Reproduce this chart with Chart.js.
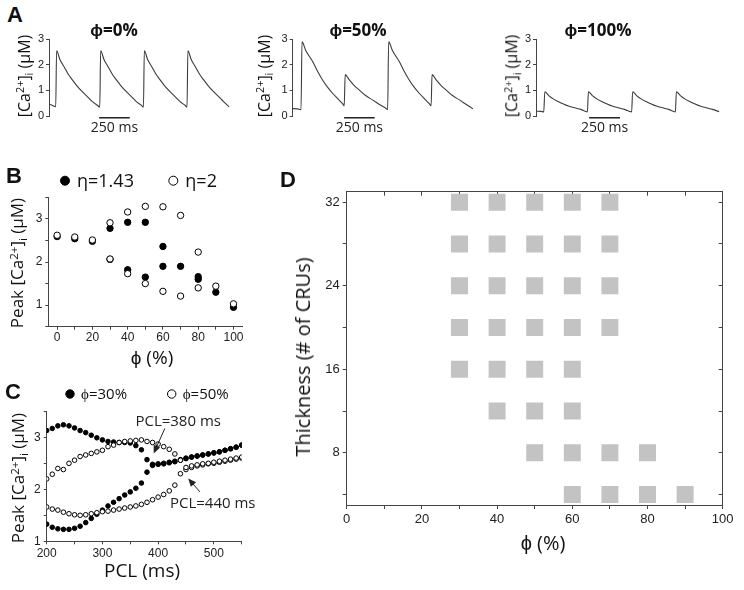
<!DOCTYPE html>
<html>
<head>
<meta charset="utf-8">
<script src="https://cdn.jsdelivr.net/npm/chart.js@4.4.1/dist/chart.umd.min.js"></script>
<style>
  body { margin: 0; background: #fff; }
  #fig { position: relative; width: 744px; height: 590px; overflow: hidden; font-family: "Open Sans", sans-serif; color: #111; }
  #fig canvas { position: absolute; }
  .txt { position: absolute; white-space: nowrap; transform: translate(-50%, -50%); line-height: 1; }
  .rot { transform: translate(-50%, -50%) rotate(-90deg); }
  .letter { font: bold 22px "Liberation Sans", Arial, sans-serif; }
  .head { font-weight: bold; font-size: 17px; }
  .up { font-size: 0.68em; vertical-align: 0.5em; }
  .dn { font-size: 0.68em; vertical-align: -0.3em; }
</style>
</head>
<body>
<div id="fig">
  <canvas id="a0"></canvas>
  <canvas id="a50"></canvas>
  <canvas id="a100"></canvas>
  <canvas id="panelB"></canvas>
  <canvas id="panelC"></canvas>
  <canvas id="panelD"></canvas>

  <div class="txt letter" style="left:15px;top:15px">A</div>
  <div class="txt head" style="left:114px;top:29px">ϕ=0%</div>
  <div class="txt head" style="left:358px;top:29px">ϕ=50%</div>
  <div class="txt head" style="left:598px;top:29px">ϕ=100%</div>
  <div class="txt rot" style="left:25px;top:76px;font-size:16px">[Ca<span class="up">2+</span>]<span class="dn">i</span> (μM)</div>
  <div class="txt rot" style="left:265px;top:76px;font-size:16px">[Ca<span class="up">2+</span>]<span class="dn">i</span> (μM)</div>
  <div class="txt rot" style="left:513px;top:76px;font-size:16px">[Ca<span class="up">2+</span>]<span class="dn">i</span> (μM)</div>

  <div class="txt letter" style="left:14px;top:176px">B</div>
  <div class="txt rot" style="left:18px;top:263px;font-size:17px">Peak [Ca<span class="up">2+</span>]<span class="dn">i</span> (μM)</div>
  <div class="txt" style="left:152px;top:357px;font-size:19px">ϕ (%)</div>

  <div class="txt letter" style="left:13px;top:392px">C</div>
  <div class="txt rot" style="left:19px;top:478px;font-size:17px">Peak [Ca<span class="up">2+</span>]<span class="dn">i</span> (μM)</div>
  <div class="txt" style="left:142px;top:570px;font-size:19px">PCL (ms)</div>

  <div class="txt letter" style="left:288px;top:180px">D</div>
  <div class="txt rot" style="left:303px;top:357px;font-size:20px">Thickness (# of CRUs)</div>
  <div class="txt" style="left:543px;top:543px;font-size:20px">ϕ (%)</div>
</div>
<script>
// ---- A: Ca transients, [time (ms), Ca (uM)] ----
const trace0 = [
  [0, 0.47], [30, 0.41], [55, 0.36],
  [62, 2.55], [90, 2.2], [123, 1.93], [155, 1.65], [191, 1.41], [230, 1.17], [272, 0.95], [315, 0.75], [354, 0.56], [395, 0.42], [415, 0.35],
  [422, 2.55], [450, 2.2], [483, 1.93], [515, 1.65], [551, 1.41], [590, 1.17], [632, 0.95], [675, 0.75], [714, 0.56], [755, 0.42], [772, 0.35],
  [779, 2.55], [807, 2.2], [840, 1.93], [872, 1.65], [908, 1.41], [947, 1.17], [989, 0.95], [1032, 0.75], [1071, 0.56], [1112, 0.42], [1128, 0.35],
  [1135, 2.55], [1163, 2.2], [1196, 1.93], [1228, 1.65], [1264, 1.41], [1303, 1.17], [1345, 0.95], [1388, 0.75], [1427, 0.56], [1473, 0.36]
];
const trace50 = [
  [0, 0.29], [40, 0.28], [68, 0.25],
  [76, 2.9], [108, 2.55], [163, 2.13], [203, 1.75], [244, 1.41], [283, 1.14], [326, 0.89], [368, 0.68], [408, 0.48], [421, 0.4],
  [429, 1.62], [461, 1.42], [501, 1.2], [543, 1.02], [596, 0.8], [652, 0.63], [706, 0.46], [761, 0.3], [776, 0.25],
  [784, 2.9], [816, 2.55], [871, 2.13], [911, 1.75], [952, 1.41], [991, 1.14], [1034, 0.89], [1076, 0.68], [1116, 0.48], [1131, 0.4],
  [1139, 1.62], [1171, 1.42], [1211, 1.2], [1253, 1.02], [1306, 0.8], [1362, 0.63], [1416, 0.46], [1473, 0.28]
];
const trace100 = [
  [0, 0.19], [40, 0.18], [63, 0.16],
  [71, 0.95], [103, 0.8], [143, 0.66], [183, 0.56], [223, 0.47], [263, 0.39], [313, 0.32], [363, 0.26], [416, 0.16],
  [424, 0.95], [456, 0.8], [496, 0.66], [536, 0.56], [576, 0.47], [616, 0.39], [666, 0.32], [716, 0.26], [774, 0.16],
  [782, 0.95], [814, 0.8], [854, 0.66], [894, 0.56], [934, 0.47], [974, 0.39], [1024, 0.32], [1074, 0.26], [1128, 0.16],
  [1136, 0.95], [1168, 0.8], [1208, 0.66], [1248, 0.56], [1288, 0.47], [1328, 0.39], [1378, 0.32], [1428, 0.26], [1483, 0.17]
];
const scaleBarStart = [410, 420, 430];
const scaleBarLength = 250;
const traceTicks = [0, 1, 2, 3];

// ---- B: peak Ca vs phi ----
const bPhi = [0, 10, 20, 30, 40, 50, 60, 70, 80, 90, 100];
const bEta143Upper = [2.59, 2.54, 2.48, 2.78, 2.92, 2.92, 2.36, 1.90, 1.66, 1.30, 0.95];
const bEta143Lower = [null, null, null, 2.06, 1.82, 1.65, 1.90, null, 1.60, null, null];
const bEta2Upper = [2.62, 2.58, 2.51, 2.91, 3.16, 3.29, 3.28, 3.08, 2.23, 1.44, 1.03];
const bEta2Lower = [null, null, null, 2.07, 1.73, 1.50, 1.32, 1.21, 1.40, null, null];

// ---- C: peak Ca vs PCL ----
const cPcl = [200, 210, 220, 230, 240, 250, 260, 270, 280, 290, 300, 310, 320, 330, 340, 350, 360, 370,
              380, 390, 400, 410, 420, 430, 440, 450, 460, 470, 480, 490, 500, 510, 520, 530, 540, 550];
const c30Upper = [3.13, 3.17, 3.22, 3.24, 3.22, 3.18, 3.13, 3.09, 3.04, 2.99, 2.95, 2.92, 2.91, 2.90, 2.90, 2.89, 2.84, 2.76,
                  2.57, 2.48, 2.49, 2.50, 2.52, 2.54, 2.57, 2.60, 2.62, 2.64, 2.66, 2.68, 2.70, 2.72, 2.75, 2.78, 2.81, 2.85];
const c30Lower = [1.33, 1.27, 1.24, 1.23, 1.23, 1.25, 1.29, 1.36, 1.44, 1.52, 1.60, 1.68, 1.75, 1.82, 1.89, 1.95, 2.02, 2.12,
                  2.33, 2.46, 2.48, 2.49, 2.51, 2.53, 2.56, 2.59, 2.62, 2.64, 2.66, 2.68, 2.70, 2.72, 2.75, 2.78, 2.81, 2.85];
const c50Upper = [2.20, 2.29, 2.40, 2.38, 2.50, 2.56, 2.63, 2.66, 2.69, 2.72, 2.75, 2.82, 2.85, 2.90, 2.92, 2.93, 2.94, 2.95,
                  2.92, 2.90, 2.87, 2.82, 2.77, 2.68, 2.56, 2.42, 2.45, 2.47, 2.49, 2.50, 2.52, 2.54, 2.56, 2.58, 2.60, 2.62];
const c50Lower = [1.66, 1.62, 1.60, 1.56, 1.53, 1.51, 1.50, 1.51, 1.53, 1.55, 1.57, 1.58, 1.60, 1.62, 1.64, 1.66, 1.68, 1.71,
                  1.75, 1.80, 1.85, 1.90, 1.97, 2.08, 2.30, 2.38, 2.42, 2.45, 2.47, 2.49, 2.50, 2.52, 2.54, 2.56, 2.58, 2.60];
const pclNotes = [
  { text: 'PCL=380 ms', at: [436, 3.30], from: [412, 3.17], to: [392, 2.69] },
  { text: 'PCL=440 ms', at: [498, 1.72], from: [475, 1.95], to: [454, 2.21] }
];

// ---- D: alternans region, thickness vs phi ----
const dThickness = [32, 28, 24, 20, 16, 12, 8, 4];
const dPhiAtThickness = [
  [30, 40, 50, 60, 70],
  [30, 40, 50, 60, 70],
  [30, 40, 50, 60, 70],
  [30, 40, 50, 60, 70],
  [30, 40, 50, 60],
  [40, 50, 60],
  [50, 60, 70, 80],
  [60, 70, 80, 90]
];
const dPhiTicks = [0, 10, 20, 30, 40, 50, 60, 70, 80, 90, 100];
const dThicknessTicks = [4, 8, 12, 16, 20, 24, 28, 32];

// ---- helpers ----
const ink = '#222';
const axisInk = '#444';
Chart.defaults.font.family = '"Liberation Sans", Arial, sans-serif';
Chart.defaults.color = ink;

function place(id, box) {
  const c = document.getElementById(id);
  c.width = box.w;
  c.height = box.h;
  c.style.left = box.x + 'px';
  c.style.top = box.y + 'px';
  return c;
}

// layout padding that puts the chart area where the reference has it
function pad(box, area, xh) {
  return {
    left: 0,
    top: area.y - box.y,
    right: box.x + box.w - (area.x + area.w),
    bottom: box.y + box.h - (area.y + area.h) - xh
  };
}

function axis(opts) {
  const o = {
    type: 'linear',
    min: opts.min,
    max: opts.max,
    afterBuildTicks: s => { s.ticks = opts.ticks.map(v => ({ value: v })); },
    ticks: {
      font: { size: opts.font || 12 },
      color: ink,
      padding: opts.padding == null ? 1 : opts.padding,
      maxRotation: 0,
      autoSkip: false,
      callback: v => (opts.labels.includes(v) ? String(v) : '')
    },
    grid: { drawOnChartArea: false, tickLength: opts.tick || 4, color: axisInk, tickWidth: 1 },
    border: { display: true, color: axisInk, width: 1 }
  };
  if (opts.width != null) o.afterFit = s => { s.width = opts.width; };
  if (opts.height != null) o.afterFit = s => { s.height = opts.height; };
  return o;
}

// top / right frame with inward tick marks, no labels
function mirrorAxis(position, min, max, ticks) {
  return {
    type: 'linear',
    position,
    min,
    max,
    afterBuildTicks: s => { s.ticks = ticks.map(v => ({ value: v })); },
    ticks: { display: false },
    grid: { drawOnChartArea: false, drawTicks: true, tickLength: -4, color: axisInk },
    border: { display: true, color: axisInk, width: 1 },
    afterFit: s => { if (position === 'top') s.height = 0; else s.width = 0; }
  };
}

const base = {
  animation: false,
  responsive: false,
  devicePixelRatio: 1,
  events: []
};

// ---- A ----
const scaleBarLabel = {
  id: 'scaleBarLabel',
  afterDatasetsDraw(chart) {
    const bar = chart.data.datasets[1].data;
    const xs = chart.scales.x, ys = chart.scales.y, ctx = chart.ctx;
    const cx = (xs.getPixelForValue(bar[0].x) + xs.getPixelForValue(bar[1].x)) / 2;
    const y = ys.getPixelForValue(bar[0].y);
    ctx.save();
    ctx.font = '14px "Open Sans"';
    ctx.fillStyle = ink;
    ctx.textAlign = 'center';
    ctx.textBaseline = 'middle';
    ctx.fillText(scaleBarLength + ' ms', cx, y + 10);
    ctx.restore();
  }
};

function traceChart(id, box, area, trace, barStart) {
  new Chart(place(id, box), {
    type: 'line',
    data: {
      datasets: [
        { data: trace.map(([x, y]) => ({ x, y })), borderColor: '#3c3c3c', borderWidth: 1.1,
          pointRadius: 0, cubicInterpolationMode: 'monotone' },
        { data: [{ x: barStart, y: -0.07 }, { x: barStart + scaleBarLength, y: -0.07 }],
          borderColor: '#111', borderWidth: 1.4, pointRadius: 0, clip: false }
      ]
    },
    options: {
      ...base,
      layout: { padding: pad(box, area, 0) },
      scales: {
        x: { type: 'linear', display: false, min: 0, max: 1485 },
        y: axis({ min: 0, max: 3, ticks: traceTicks, labels: traceTicks, font: 11, tick: 3, padding: 2, width: area.x - box.x })
      },
      plugins: { legend: { display: false }, tooltip: { enabled: false } }
    },
    plugins: [scaleBarLabel]
  });
}

traceChart('a0', { x: 0, y: 30, w: 240, h: 110 }, { x: 49, y: 39.3, w: 181.7, h: 76.7 }, trace0, scaleBarStart[0]);
traceChart('a50', { x: 240, y: 30, w: 244, h: 110 }, { x: 292.7, y: 39.3, w: 181.7, h: 76.7 }, trace50, scaleBarStart[1]);
traceChart('a100', { x: 484, y: 30, w: 260, h: 110 }, { x: 536, y: 39.3, w: 183.5, h: 76.7 }, trace100, scaleBarStart[2]);

// ---- marker legend drawn above the plot, styled from the datasets ----
const markerLegend = {
  id: 'markerLegend',
  afterDraw(chart, args, opts) {
    const ctx = chart.ctx;
    opts.items.forEach(it => {
      const ds = chart.data.datasets[it.dataset];
      ctx.save();
      ctx.beginPath();
      ctx.arc(it.x, it.y, opts.radius, 0, Math.PI * 2);
      ctx.fillStyle = ds.backgroundColor;
      ctx.fill();
      ctx.lineWidth = ds.borderWidth;
      ctx.strokeStyle = ds.borderColor;
      ctx.stroke();
      ctx.fillStyle = '#111';
      ctx.font = opts.font;
      ctx.textAlign = 'left';
      ctx.textBaseline = 'middle';
      ctx.fillText(ds.label, it.x + opts.gap, it.y + 1);
      ctx.restore();
    });
  }
};

function pts(xs, ys) {
  return xs.map((x, i) => ({ x, y: ys[i] })).filter(p => p.y != null);
}

const filledDot = { pointStyle: 'circle', backgroundColor: '#000', borderColor: '#000', borderWidth: 1, showLine: false };
const openDot = { pointStyle: 'circle', backgroundColor: '#fff', borderColor: '#000', borderWidth: 1, showLine: false };

// ---- B ----
{
  const box = { x: 0, y: 160, w: 262, h: 187 };
  const area = { x: 48.3, y: 197.3, w: 194, h: 129.4 };
  new Chart(place('panelB', box), {
    type: 'scatter',
    data: {
      datasets: [
        { label: 'η=1.43', data: pts(bPhi, bEta143Upper).concat(pts(bPhi, bEta143Lower)), ...filledDot, pointRadius: 3.2, order: 2 },
        { label: 'η=2', data: pts(bPhi, bEta2Upper).concat(pts(bPhi, bEta2Lower)), ...openDot, pointRadius: 3.2, order: 1 }
      ]
    },
    options: {
      ...base,
      layout: { padding: pad(box, area, 20) },
      scales: {
        x: axis({ min: -5, max: 105, ticks: [0, 10, 20, 30, 40, 50, 60, 70, 80, 90, 100], labels: [0, 20, 40, 60, 80, 100], tick: 3, padding: 1, height: 20 }),
        y: axis({ min: 0.5, max: 3.5, ticks: [0.5, 1, 1.5, 2, 2.5, 3, 3.5], labels: [1, 2, 3], tick: 3, padding: 3, width: area.x - box.x })
      },
      plugins: {
        legend: { display: false },
        tooltip: { enabled: false },
        markerLegend: { radius: 4.5, gap: 12, font: '18px "Open Sans"',
          items: [{ dataset: 0, x: 65, y: 180.7 - box.y }, { dataset: 1, x: 173.3, y: 180.7 - box.y }] }
      }
    },
    plugins: [markerLegend]
  });
}

// ---- C ----
const pclArrows = {
  id: 'pclArrows',
  afterDatasetsDraw(chart) {
    const xs = chart.scales.x, ys = chart.scales.y, ctx = chart.ctx;
    ctx.save();
    ctx.strokeStyle = '#222';
    ctx.fillStyle = '#222';
    ctx.lineWidth = 1;
    ctx.font = '15px "Open Sans"';
    ctx.textAlign = 'center';
    ctx.textBaseline = 'middle';
    pclNotes.forEach(n => {
      const x0 = xs.getPixelForValue(n.from[0]), y0 = ys.getPixelForValue(n.from[1]);
      const x1 = xs.getPixelForValue(n.to[0]), y1 = ys.getPixelForValue(n.to[1]);
      const ang = Math.atan2(y1 - y0, x1 - x0);
      ctx.beginPath();
      ctx.moveTo(x0, y0);
      ctx.lineTo(x1 - 5 * Math.cos(ang), y1 - 5 * Math.sin(ang));
      ctx.stroke();
      ctx.beginPath();
      ctx.moveTo(x1, y1);
      ctx.lineTo(x1 - 8 * Math.cos(ang) + 3.5 * Math.sin(ang), y1 - 8 * Math.sin(ang) - 3.5 * Math.cos(ang));
      ctx.lineTo(x1 - 8 * Math.cos(ang) - 3.5 * Math.sin(ang), y1 - 8 * Math.sin(ang) + 3.5 * Math.cos(ang));
      ctx.closePath();
      ctx.fill();
      ctx.fillText(n.text, xs.getPixelForValue(n.at[0]), ys.getPixelForValue(n.at[1]));
    });
    ctx.restore();
  }
};

{
  const box = { x: 0, y: 378, w: 262, h: 184 };
  const area = { x: 46.7, y: 411.3, w: 195, h: 130 };
  new Chart(place('panelC', box), {
    type: 'scatter',
    data: {
      datasets: [
        { label: 'ϕ=30%', data: pts(cPcl, c30Upper), ...filledDot, pointRadius: 2.3, order: 2 },
        { label: '', data: pts(cPcl, c30Lower), ...filledDot, pointRadius: 2.3, order: 2 },
        { label: 'ϕ=50%', data: pts(cPcl, c50Upper), ...openDot, pointRadius: 2.3, order: 1 },
        { label: '', data: pts(cPcl, c50Lower), ...openDot, pointRadius: 2.3, order: 1 }
      ]
    },
    options: {
      ...base,
      layout: { padding: pad(box, area, 20) },
      scales: {
        x: axis({ min: 200, max: 550, ticks: [200, 250, 300, 350, 400, 450, 500, 550], labels: [200, 300, 400, 500], tick: 3, padding: 2, height: 20 }),
        y: axis({ min: 1, max: 3.5, ticks: [1, 1.5, 2, 2.5, 3, 3.5], labels: [1, 2, 3], tick: 3, padding: 3, width: area.x - box.x })
      },
      plugins: {
        legend: { display: false },
        tooltip: { enabled: false },
        markerLegend: { radius: 4.2, gap: 11, font: '15px "Open Sans"',
          items: [{ dataset: 0, x: 70, y: 394 - box.y }, { dataset: 2, x: 171.7, y: 394 - box.y }] }
      }
    },
    plugins: [pclArrows, markerLegend]
  });
}

// ---- D ----
{
  const box = { x: 262, y: 170, w: 482, h: 360 };
  const area = { x: 346.7, y: 191.7, w: 376, h: 313.3 };
  const cells = [];
  dThickness.forEach((t, i) => dPhiAtThickness[i].forEach(p => cells.push({ x: p, y: t })));
  new Chart(place('panelD', box), {
    type: 'scatter',
    data: {
      datasets: [
        { data: cells, pointStyle: 'rect', pointRadius: 12, backgroundColor: '#c3c3c3', borderWidth: 0 }
      ]
    },
    options: {
      ...base,
      layout: { padding: pad(box, area, 25) },
      scales: {
        x: axis({ min: 0, max: 100, ticks: dPhiTicks, labels: [0, 20, 40, 60, 80, 100], font: 13, tick: 4, padding: 3, height: 25 }),
        y: axis({ min: 3, max: 33, ticks: dThicknessTicks, labels: [8, 16, 24, 32], font: 13, tick: 4, padding: 3, width: area.x - box.x }),
        x2: mirrorAxis('top', 0, 100, dPhiTicks),
        y2: mirrorAxis('right', 3, 33, dThicknessTicks)
      },
      plugins: { legend: { display: false }, tooltip: { enabled: false } }
    }
  });
}
</script>
</body>
</html>
